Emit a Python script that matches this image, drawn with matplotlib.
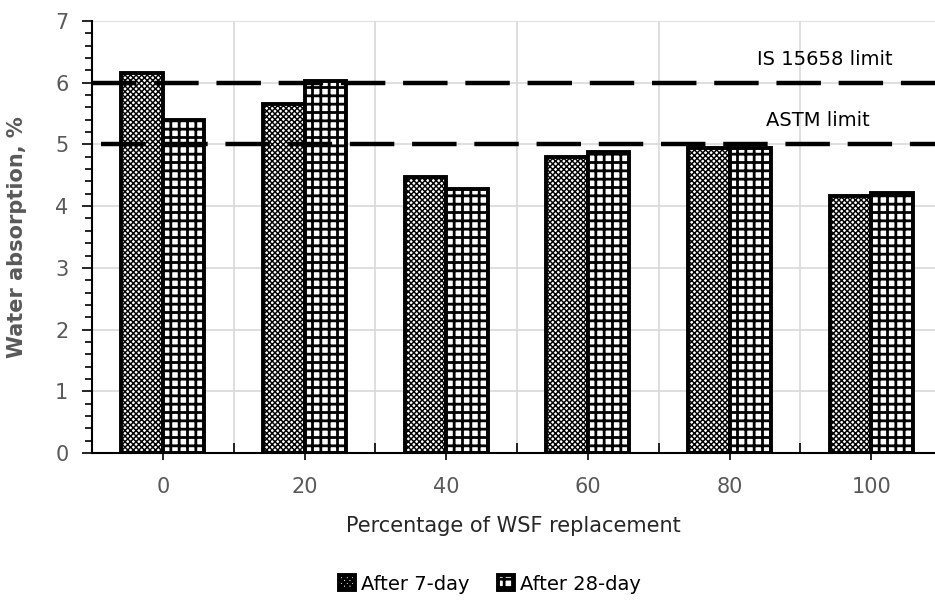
import numpy as np
import matplotlib
matplotlib.use("Agg")
import matplotlib.pyplot as plt
from matplotlib.ticker import MultipleLocator, FixedLocator

# data
categories = ['0', '20', '40', '60', '80', '100']
day7 = [6.16, 5.65, 4.48, 4.79, 4.95, 4.17]
day28 = [5.40, 6.03, 4.28, 4.88, 4.94, 4.21]
is_limit = 6.0
astm_limit = 5.0

plt.rcParams['font.family'] = 'DejaVu Sans'

W, H = 935, 611
fig = plt.figure(figsize=(W / 100, H / 100), dpi=100)
ax = fig.add_axes([92 / W, 1 - 453 / H, (935 - 92) / W, (453 - 21) / H])

x = np.arange(len(categories))
bw = 0.293

plt.rcParams['hatch.linewidth'] = 1.05
b1 = ax.bar(x - bw / 2, day7, bw, facecolor='white', edgecolor='black',
            linewidth=2.8, hatch='xxxxxx', label='After 7-day', zorder=3)
plt.rcParams['hatch.linewidth'] = 2.0
b2 = ax.bar(x + bw / 2, day28, bw, facecolor='white', edgecolor='black',
            linewidth=2.8, hatch='++', label='After 28-day', zorder=3)

# limit lines
ax.plot([-0.5, 5.45], [is_limit, is_limit], color='black', lw=3.2,
        dashes=(10, 4), zorder=4)
ax.plot([-0.44, 5.45], [astm_limit, astm_limit], color='black', lw=3.2,
        dashes=(10, 4), zorder=4)
ax.text(4.67, 6.38, 'IS 15658 limit', ha='center', va='center', fontsize=14)
ax.text(4.62, 5.38, 'ASTM limit', ha='center', va='center', fontsize=14)

ax.set_xlim(-0.5, 5.45)
ax.set_ylim(0, 7)

ax.set_xticks(x)
ax.set_xticklabels(categories)
ax.xaxis.set_minor_locator(FixedLocator(np.arange(0.5, 5.5, 1)))
ax.tick_params(axis='x', which='major', direction='out', length=5, width=1.2,
               labelsize=15, labelcolor='#595959', pad=12)
ax.tick_params(axis='x', which='minor', direction='in', length=7, width=1.2)

ax.yaxis.set_major_locator(MultipleLocator(1))
ax.yaxis.set_minor_locator(MultipleLocator(0.2))
ax.tick_params(axis='y', which='major', direction='out', length=7, width=1.2,
               labelsize=15, labelcolor='#595959', pad=10)
ax.tick_params(axis='y', which='minor', direction='out', length=5, width=1.2)

ax.grid(True, axis='y', which='major', color='#d9d9d9', lw=1.2, zorder=0)
ax.grid(True, axis='x', which='minor', color='#d9d9d9', lw=1.2, zorder=0)
ax.set_axisbelow(True)

for s in ['top', 'right']:
    ax.spines[s].set_visible(False)
for s in ['left', 'bottom']:
    ax.spines[s].set_linewidth(1.5)
    ax.spines[s].set_zorder(5)

ax.set_xlabel('Percentage of WSF replacement', fontsize=15, color='#262626',
              labelpad=14)
ax.set_ylabel('Water absorption, %', fontsize=15, fontweight='bold',
              color='#595959', labelpad=20)

fig.legend(handles=[b1, b2], loc='center', bbox_to_anchor=(490 / W, 1 - 584 / H),
           ncol=2, frameon=False, fontsize=14, handlelength=0.8,
           handleheight=0.8, handletextpad=0.3, columnspacing=1.5)

fig.savefig('out.png', dpi=100)
